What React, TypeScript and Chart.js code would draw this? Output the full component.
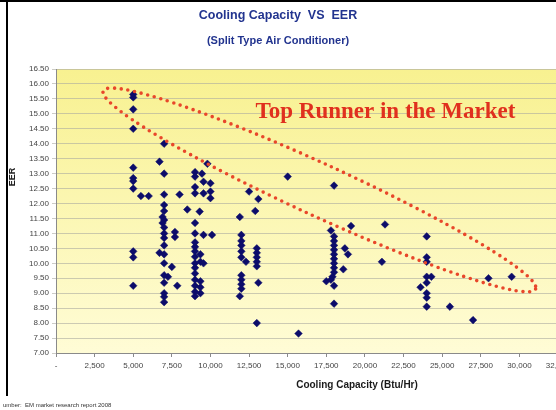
import React, { useEffect, useRef } from "react";
import { Chart, registerables } from "chart.js";

Chart.register(...registerables);

// Cooling capacity (Btu/Hr) of each model
const capacity: number[] = [
  // ~5,000 group
  5000, 5000, 5000, 5000, 5000, 5000, 5000, 5000, 5000, 5000, 5000, 5500, 6000,
  // ~7,000 group
  7000, 6700, 7000, 7000, 8000, 7000, 7000, 6900, 7000, 6900, 7000, 7000, 7000, 7000, 6700,
  7000, 7000, 7500, 7250, 7000, 7000, 7850, 7000, 7000, 7000, 7700, 7700, 8500,
  // ~9,000 group
  9000, 9000, 9450, 9800, 9550, 10000, 10000, 10000, 9550, 9000, 9000, 9300, 9000, 9000,
  9550, 10100, 9000, 9000, 9000, 9000, 9350, 9350, 9000, 9550, 9000, 9000, 9000, 9350,
  9000, 9350, 9000, 9350, 9000,
  // ~12,000 group
  12500, 13100, 12900, 11900, 12000, 12000, 12000, 12000, 12000, 12300, 12000, 12000,
  12000, 12000, 11900, 13000, 13000, 13000, 13000, 13000, 13100, 13000,
  // 15,000 group
  15000, 15700,
  // ~18,000 group
  18000, 17800, 19100, 18000, 18000, 18000, 18000, 18000, 18000, 18000, 18000, 18000,
  17900, 17500, 17800, 18000, 18000, 18700, 18900, 18600,
  // ~21,000 group
  21300, 21100,
  // ~24,000 group and above
  24000, 24000, 24000, 24000, 24300, 24000, 23600, 24000, 24000, 24000, 25500, 27000,
  28000, 29500,
];

// EER of each model (same order as capacity)
const eer: number[] = [
  15.65, 15.55, 15.15, 14.5, 13.2, 12.85, 12.75, 12.5, 10.4, 10.2, 9.25, 12.25, 12.25,
  14.0, 13.4, 13.0, 12.3, 12.3, 11.95, 11.75, 11.55, 11.45, 11.35, 11.2, 11.0, 10.85, 10.6, 10.35,
  10.3, 10.0, 9.88, 9.55, 9.6, 9.35, 9.25, 9.0, 8.88, 8.7, 11.05, 10.88, 11.8,
  13.05, 12.9, 13.0, 13.33, 12.73, 12.68, 12.4, 12.18, 12.34, 12.34, 12.55, 11.73, 11.35, 11.0,
  10.95, 10.95, 10.7, 10.55, 10.4, 10.22, 10.3, 10.05, 10.0, 10.0, 9.85, 9.66, 9.45, 9.4,
  9.25, 9.2, 9.05, 9.0, 8.9,
  12.4, 12.15, 11.75, 11.55, 10.95, 10.75, 10.6, 10.4, 10.2, 10.05, 9.6, 9.45,
  9.3, 9.15, 8.9, 10.5, 10.35, 10.2, 10.05, 9.9, 9.35, 8.0,
  12.9, 7.65,
  12.6, 11.1, 11.25, 10.9, 10.75, 10.6, 10.45, 10.3, 10.15, 10.0, 9.85, 9.7,
  9.55, 9.4, 9.45, 9.25, 8.65, 10.5, 10.3, 9.8,
  11.3, 10.05,
  10.9, 10.2, 10.05, 9.55, 9.55, 9.35, 9.2, 9.0, 8.85, 8.55, 8.55, 8.1,
  9.5, 9.55,
];

const xTicks: number[] = [0, 2500, 5000, 7500, 10000, 12500, 15000, 17500, 20000, 22500, 25000, 27500, 30000, 32500];
const yTicks: number[] = [7, 7.5, 8, 8.5, 9, 9.5, 10, 10.5, 11, 11.5, 12, 12.5, 13, 13.5, 14, 14.5, 15, 15.5, 16, 16.5];

const titleText = "Cooling Capacity  VS  EER";
const subtitleText = "(Split Type Air Conditioner)";
const xTitle = "Cooling Capacity (Btu/Hr)";
const yTitle = "EER";
const noteText = "umber:  EM market research report 2008";
const highlightText = "Top Runner in the Market";

// Ellipse tips (data coordinates) of the highlighted region
const ellipseLeft = { x: 3060, y: 15.77 };
const ellipseRight = { x: 31050, y: 9.14 };
const highlightAt = { x: 21330, y: 15.07 };

const decorPlugin = {
  id: "decor",
  beforeDraw(chart: any) {
    const { ctx, chartArea } = chart;
    ctx.save();
    ctx.fillStyle = "#ffffff";
    ctx.fillRect(0, 0, chart.width, chart.height);
    const g = ctx.createLinearGradient(0, chartArea.top, 0, chartArea.bottom);
    g.addColorStop(0, "#f8f190");
    g.addColorStop(1, "#fffcd6");
    ctx.fillStyle = g;
    ctx.fillRect(chartArea.left, chartArea.top, chartArea.right - chartArea.left, chartArea.bottom - chartArea.top);
    ctx.restore();
  },
  afterDatasetsDraw(chart: any) {
    const { ctx } = chart;
    const xs = chart.scales.x;
    const ys = chart.scales.y;
    const x1 = xs.getPixelForValue(ellipseLeft.x);
    const y1 = ys.getPixelForValue(ellipseLeft.y);
    const x2 = xs.getPixelForValue(ellipseRight.x);
    const y2 = ys.getPixelForValue(ellipseRight.y);
    const cx = (x1 + x2) / 2;
    const cy = (y1 + y2) / 2;
    const a = Math.hypot(x2 - x1, y2 - y1) / 2;
    const ang = Math.atan2(y2 - y1, x2 - x1);
    ctx.save();
    ctx.strokeStyle = "#e8472a";
    ctx.lineWidth = 3.6;
    ctx.lineCap = "round";
    ctx.setLineDash([0, 6.8]);
    ctx.beginPath();
    ctx.ellipse(cx, cy, a, 26, ang, 0, Math.PI * 2);
    ctx.stroke();
    ctx.setLineDash([]);
    ctx.fillStyle = "#e0301e";
    ctx.font = "bold 23px 'Liberation Serif', 'Times New Roman', serif";
    ctx.textAlign = "center";
    ctx.textBaseline = "middle";
    ctx.fillText(highlightText, xs.getPixelForValue(highlightAt.x), ys.getPixelForValue(highlightAt.y));
    ctx.restore();
  },
  afterDraw(chart: any) {
    const { ctx } = chart;
    ctx.save();
    // frame
    ctx.fillStyle = "#000000";
    ctx.fillRect(0, 0, 556, 2);
    ctx.fillRect(6, 0, 2, 396);
    // titles
    ctx.fillStyle = "#22348f";
    ctx.textAlign = "center";
    ctx.textBaseline = "middle";
    ctx.font = "bold 12.5px 'Liberation Sans', Arial, sans-serif";
    ctx.fillText(titleText, 278, 16);
    ctx.font = "bold 11px 'Liberation Sans', Arial, sans-serif";
    ctx.fillText(subtitleText, 278, 41);
    // axis titles
    ctx.fillStyle = "#1a1a1a";
    ctx.font = "bold 10px 'Liberation Sans', Arial, sans-serif";
    ctx.fillText(xTitle, 357, 385);
    ctx.save();
    ctx.translate(13, 177);
    ctx.rotate(-Math.PI / 2);
    ctx.font = "bold 9px 'Liberation Sans', Arial, sans-serif";
    ctx.fillText(yTitle, 0, 0);
    ctx.restore();
    // note
    ctx.textAlign = "left";
    ctx.fillStyle = "#333333";
    ctx.font = "6px 'Liberation Sans', Arial, sans-serif";
    ctx.fillText(noteText, 3, 405);
    ctx.restore();
  },
};

export default function App() {
  const ref = useRef<HTMLCanvasElement | null>(null);
  useEffect(() => {
    if (!ref.current) return;
    const points = capacity.map((c, i) => ({ x: c, y: eer[i] }));
    const chart = new Chart(ref.current, {
      type: "scatter",
      data: {
        datasets: [
          {
            label: "EER",
            data: points,
            pointStyle: "rectRot",
            pointRadius: 3.8,
            pointBackgroundColor: "#0c0c6a",
            pointBorderColor: "#0c0c6a",
            pointBorderWidth: 0.5,
          },
        ],
      },
      options: {
        animation: false,
        responsive: false,
        maintainAspectRatio: false,
        layout: { padding: { left: 8, right: 42, top: 69, bottom: 37 } },
        plugins: { legend: { display: false }, tooltip: { enabled: false }, title: { display: false } },
        scales: {
          x: {
            type: "linear",
            min: 0,
            max: 32500,
            afterBuildTicks: (scale: any) => {
              scale.ticks = xTicks.map((v) => ({ value: v }));
            },
            afterFit: (scale: any) => {
              scale.height = 20;
            },
            ticks: {
              font: { family: "'Liberation Sans', Arial, sans-serif", size: 8 },
              color: "#444444",
              padding: 4,
              maxRotation: 0,
              autoSkip: false,
              callback: (v: any) => (Number(v) === 0 ? "-" : Number(v).toLocaleString("en-US")),
            },
            grid: { drawOnChartArea: false, drawTicks: true, tickLength: 4, color: "#8a8a8a" },
            border: { display: true, color: "#8a8a8a", width: 1 },
          },
          y: {
            type: "linear",
            min: 7,
            max: 16.5,
            afterBuildTicks: (scale: any) => {
              scale.ticks = yTicks.map((v) => ({ value: v }));
            },
            afterFit: (scale: any) => {
              scale.width = 48;
            },
            ticks: {
              font: { family: "'Liberation Sans', Arial, sans-serif", size: 8 },
              color: "#444444",
              padding: 3,
              autoSkip: false,
              callback: (v: any) => Number(v).toFixed(2),
            },
            grid: { drawOnChartArea: true, drawTicks: true, tickLength: 4, color: "rgba(170,170,160,0.6)", lineWidth: 1 },
            border: { display: true, color: "#8a8a8a", width: 1 },
          },
        },
      },
      plugins: [decorPlugin],
    });
    return () => chart.destroy();
  }, []);
  return (
    <div style={{ position: "fixed", left: 0, top: 0, width: 556, height: 410, overflow: "hidden", background: "#fff" }}>
      <canvas ref={ref} width={600} height={410} style={{ display: "block", width: 600, height: 410 }} />
    </div>
  );
}
